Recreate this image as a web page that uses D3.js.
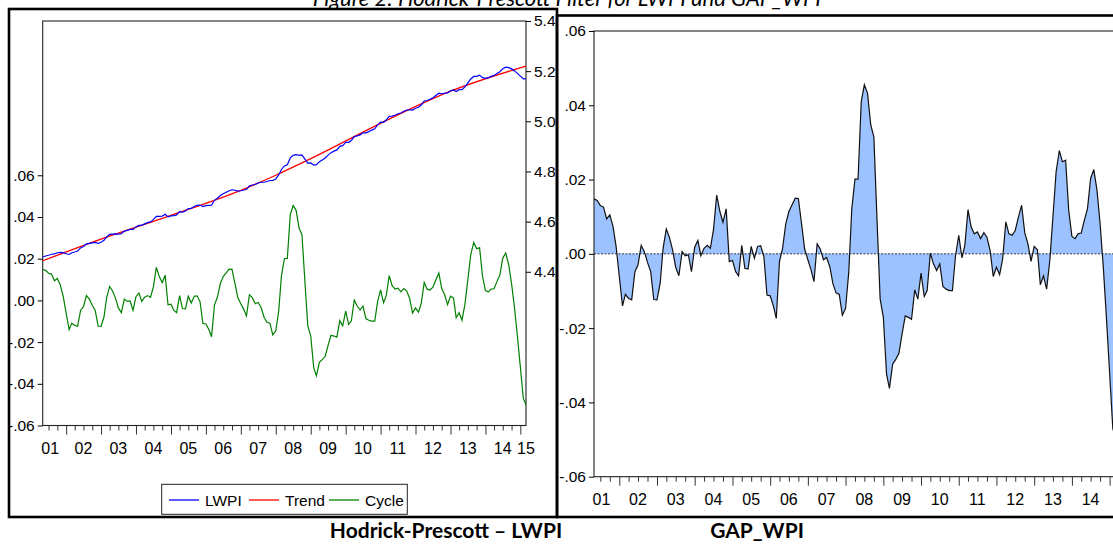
<!DOCTYPE html>
<html>
<head>
<meta charset="utf-8">
<script src="https://cdn.jsdelivr.net/npm/d3@7"></script>
<style>
  html, body { margin: 0; padding: 0; background: #fff; overflow: hidden; }
  svg { display: block; font-family: "Liberation Sans", Arial, sans-serif; }
</style>
</head>
<body>
<svg id="chart" width="1113" height="546"></svg>
<script>
// monthly observations 2001M05 .. 2015M03
const startMonth = "2001-05";
const endMonth = "2015-03";

// HP cycle (= GAP_WPI), one value per month
const cycle = [
  0.0148, 0.0144, 0.0130, 0.0126, 0.0094, 0.0105, 0.0074, 0.0020,
  -0.0061, -0.0140, -0.0109, -0.0120, -0.0124, -0.0048, -0.0030, 0.0023, 0.0006, -0.0023, -0.0048, -0.0123,
  -0.0124, -0.0079, 0.0015, 0.0067, 0.0045, 0.0011, -0.0036, -0.0059, 0.0006, -0.0005, -0.0003, -0.0048,
  0.0018, 0.0036, -0.0005, 0.0015, 0.0023, 0.0015, 0.0065, 0.0158, 0.0114, 0.0085, 0.0121, -0.0021,
  -0.0018, -0.0048, -0.0059, 0.0023, -0.0039, -0.0041, 0.0020, -0.0012, 0.0020, 0.0022, -0.0007, -0.0111,
  -0.0113, -0.0140, -0.0174, -0.0021, 0.0015, 0.0081, 0.0114, 0.0132, 0.0150, 0.0149, 0.0081, 0.0013,
  -0.0016, -0.0043, -0.0075, 0.0027, 0.0013, -0.0016, -0.0010, -0.0034, -0.0081, -0.0105, -0.0109, -0.0165,
  -0.0147, -0.0050, 0.0120, 0.0201, 0.0201, 0.0410, 0.0455, 0.0432, 0.0347, 0.0315, 0.0090, -0.0122,
  -0.0171, -0.0324, -0.0362, -0.0297, -0.0284, -0.0268, -0.0216, -0.0167, -0.0171, -0.0176, -0.0097, -0.0122,
  -0.0052, -0.0115, -0.0099, 0.0002, -0.0027, -0.0045, -0.0027, -0.0088, -0.0095, -0.0099, -0.0099, -0.0005,
  0.0050, -0.0011, 0.0023, 0.0119, 0.0072, 0.0054, 0.0059, 0.0041, 0.0057, 0.0045, 0.0009, -0.0061,
  -0.0036, -0.0056, -0.0014, 0.0086, 0.0054, 0.0050, 0.0063, 0.0099, 0.0131, 0.0057, 0.0027, -0.0020,
  0.0020, 0.0011, -0.0083, -0.0059, -0.0095, -0.0018, 0.0099, 0.0221, 0.0278, 0.0248, 0.0252, 0.0117,
  0.0047, 0.0041, 0.0054, 0.0056, 0.0090, 0.0122, 0.0203, 0.0227, 0.0171, 0.0081, -0.0036, -0.0171,
  -0.0320, -0.0470, -0.0500
];

// log WPI, one value per month
const lwpi = [
  4.459, 4.463, 4.466, 4.470, 4.471, 4.476, 4.477, 4.476,
  4.472, 4.469, 4.476, 4.479, 4.483, 4.495, 4.501, 4.511, 4.513, 4.515, 4.517, 4.513,
  4.518, 4.526, 4.539, 4.549, 4.550, 4.551, 4.550, 4.552, 4.562, 4.565, 4.569, 4.569,
  4.579, 4.585, 4.585, 4.591, 4.596, 4.599, 4.608, 4.621, 4.621, 4.622, 4.629, 4.619,
  4.623, 4.624, 4.627, 4.640, 4.638, 4.642, 4.652, 4.653, 4.660, 4.665, 4.666, 4.660,
  4.664, 4.665, 4.666, 4.685, 4.693, 4.704, 4.711, 4.717, 4.723, 4.727, 4.725, 4.722,
  4.723, 4.726, 4.728, 4.743, 4.746, 4.748, 4.754, 4.757, 4.757, 4.760, 4.764, 4.764,
  4.770, 4.786, 4.808, 4.822, 4.827, 4.854, 4.864, 4.867, 4.864, 4.866, 4.849, 4.833,
  4.834, 4.825, 4.827, 4.839, 4.846, 4.854, 4.865, 4.875, 4.881, 4.886, 4.900, 4.903,
  4.916, 4.916, 4.923, 4.939, 4.942, 4.946, 4.954, 4.954, 4.959, 4.965, 4.970, 4.986,
  4.997, 4.996, 5.005, 5.020, 5.021, 5.024, 5.030, 5.033, 5.040, 5.045, 5.046, 5.045,
  5.052, 5.056, 5.065, 5.081, 5.083, 5.088, 5.094, 5.103, 5.112, 5.110, 5.112, 5.113,
  5.122, 5.125, 5.119, 5.126, 5.126, 5.137, 5.153, 5.169, 5.179, 5.179, 5.184, 5.174,
  5.171, 5.174, 5.179, 5.183, 5.191, 5.198, 5.210, 5.216, 5.214, 5.209, 5.201, 5.191,
  5.180, 5.169, 5.170
];

// HP trend, read at a few months (smooth line)
const trendMonths = ["2001-05", "2003-01", "2005-01", "2007-01", "2008-01", "2009-01", "2011-01", "2013-01", "2015-03"];
const trendValues = [4.444, 4.530, 4.625, 4.725, 4.785, 4.851, 4.992, 5.120, 5.220];

const yearLabels = ["01", "02", "03", "04", "05", "06", "07", "08", "09", "10", "11", "12", "13", "14", "15"];
const cycleTicks = [0.06, 0.04, 0.02, 0, -0.02, -0.04, -0.06];
const cycleTickLabels = [".06", ".04", ".02", ".00", "-.02", "-.04", "-.06"];
const levelTicks = [4.4, 4.6, 4.8, 5.0, 5.2, 5.4];
const legendNames = ["LWPI", "Trend", "Cycle"];
const legendColors = ["#0000ff", "#ff0000", "#008000"];

const W = 1113;
const parseM = d3.timeParse("%Y-%m");
const months = d3.timeMonth.range(parseM(startMonth), d3.timeMonth.offset(parseM(endMonth), 1));
const first = months[0], last = months[months.length - 1];

const svg = d3.select("#chart");

// ---------- helpers ----------
function drawTimeAxis(g, x, y0, labelY) {
  const quarters = d3.timeMonth.every(3).range(first, d3.timeDay.offset(last, 1))
    .filter(d => d.getMonth() % 3 === 0 && d.getMonth() !== 0);
  const years = d3.timeYear.range(first, d3.timeDay.offset(last, 1));
  g.append("g").attr("transform", `translate(0,${y0})`)
    .call(d3.axisBottom(x).tickValues(quarters).tickSize(5).tickSizeOuter(0).tickFormat(""))
    .call(a => a.select(".domain").remove())
    .call(a => a.selectAll("line").attr("stroke", "#333"));
  g.append("g").attr("transform", `translate(0,${y0})`)
    .call(d3.axisBottom(x).tickValues(years).tickSize(9).tickSizeOuter(0).tickFormat(""))
    .call(a => a.select(".domain").remove())
    .call(a => a.selectAll("line").attr("stroke", "#333"));
  const [r0, r1] = x.range();
  const labels = yearLabels.map((d, i) => ({
    text: d,
    x: Math.min(Math.max(x(new Date(2001 + i, 6, 1)), r0 + 7.5), r1)
  })).filter(d => d.x + 8 < W);   // the last one sits past the window edge
  g.append("g").selectAll("text")
    .data(labels)
    .join("text")
    .attr("x", d => d.x)
    .attr("y", labelY)
    .attr("text-anchor", "middle")
    .attr("font-size", 16)
    .text(d => d.text);
}

// ---------- left panel: Hodrick-Prescott LWPI ----------
const L = { left: 42.7, right: 526, top: 21, bottom: 425.5 };
const xL = d3.scaleTime().domain([first, last]).range([L.left, L.right]);
const yCyc = d3.scaleLinear().domain([-0.06, 0.134]).range([L.bottom, L.top]);
const yLev = d3.scaleLinear().domain([3.787, 5.4]).range([L.bottom, L.top]);

const gl = svg.append("g");
gl.append("rect")
  .attr("x", L.left).attr("y", L.top)
  .attr("width", L.right - L.left).attr("height", L.bottom - L.top)
  .attr("fill", "none").attr("stroke", "#222").attr("stroke-width", 1.1);

gl.append("g").attr("transform", `translate(${L.left},0)`)
  .call(d3.axisLeft(yCyc).tickValues(cycleTicks).tickSize(5).tickPadding(3)
    .tickFormat((d, i) => cycleTickLabels[i]))
  .call(a => a.select(".domain").remove())
  .call(a => a.selectAll("text").attr("font-size", 15.5).attr("fill", "#000"));

gl.append("g").attr("transform", `translate(${L.right},0)`)
  .call(d3.axisRight(yLev).tickValues(levelTicks).tickSize(5).tickPadding(3).tickFormat(d3.format(".1f")))
  .call(a => a.select(".domain").remove())
  .call(a => a.selectAll("text").attr("font-size", 15.5).attr("fill", "#000"));

drawTimeAxis(gl, xL, L.bottom, 454);

gl.append("path")
  .datum(cycle)
  .attr("fill", "none").attr("stroke", legendColors[2]).attr("stroke-width", 1.2)
  .attr("d", d3.line().x((d, i) => xL(months[i])).y(d => yCyc(d)));

gl.append("path")
  .datum(trendValues)
  .attr("fill", "none").attr("stroke", legendColors[1]).attr("stroke-width", 1.3)
  .attr("d", d3.line().curve(d3.curveMonotoneX)
    .x((d, i) => xL(parseM(trendMonths[i]))).y(d => yLev(d)));

gl.append("path")
  .datum(lwpi)
  .attr("fill", "none").attr("stroke", legendColors[0]).attr("stroke-width", 1.2)
  .attr("d", d3.line().x((d, i) => xL(months[i])).y(d => yLev(d)));

// legend
const lg = gl.append("g");
lg.append("rect").attr("x", 161.7).attr("y", 484.3).attr("width", 245.6).attr("height", 30)
  .attr("fill", "#fff").attr("stroke", "#222").attr("stroke-width", 1);
const legendX = [169, 249, 329];
legendNames.forEach((name, i) => {
  lg.append("line").attr("x1", legendX[i]).attr("x2", legendX[i] + 30)
    .attr("y1", 500).attr("y2", 500).attr("stroke", legendColors[i]).attr("stroke-width", 1.3);
  lg.append("text").attr("x", legendX[i] + 36).attr("y", 506)
    .attr("font-size", 15.5).text(name);
});

// ---------- right panel: GAP_WPI ----------
const R = { left: 594, right: 1115.7, top: 31, bottom: 476.7 };
const xR = d3.scaleTime().domain([first, last]).range([R.left, R.right]);
const yGap = d3.scaleLinear().domain([-0.06, 0.06]).range([R.bottom, R.top]);

const gr = svg.append("g");
gr.append("path")
  .datum(cycle)
  .attr("fill", "#9cc2ff")
  .attr("d", d3.area().x((d, i) => xR(months[i])).y0(yGap(0)).y1(d => yGap(d)));

gr.append("line")
  .attr("x1", R.left).attr("x2", R.right).attr("y1", yGap(0)).attr("y2", yGap(0))
  .attr("stroke", "#334").attr("stroke-width", 1).attr("stroke-dasharray", "2,1.5");

gr.append("path")
  .datum(cycle)
  .attr("fill", "none").attr("stroke", "#111").attr("stroke-width", 1.2)
  .attr("d", d3.line().x((d, i) => xR(months[i])).y(d => yGap(d)));

gr.append("rect")
  .attr("x", R.left).attr("y", R.top)
  .attr("width", R.right - R.left).attr("height", R.bottom - R.top)
  .attr("fill", "none").attr("stroke", "#222").attr("stroke-width", 1.1);

gr.append("g").attr("transform", `translate(${R.left},0)`)
  .call(d3.axisLeft(yGap).tickValues(cycleTicks).tickSize(5).tickPadding(3)
    .tickFormat((d, i) => cycleTickLabels[i]))
  .call(a => a.select(".domain").remove())
  .call(a => a.selectAll("text").attr("font-size", 15.5).attr("fill", "#000"));

drawTimeAxis(gr, xR, R.bottom, 505);

// ---------- frames and captions ----------
svg.append("rect").attr("x", 9).attr("y", 9).attr("width", 548).attr("height", 508)
  .attr("fill", "none").attr("stroke", "#000").attr("stroke-width", 2.6);
svg.append("rect").attr("x", 557).attr("y", 15.5).attr("width", 620).attr("height", 501.5)
  .attr("fill", "none").attr("stroke", "#000").attr("stroke-width", 2.6);

svg.append("text")
  .attr("x", 567).attr("y", 6)
  .attr("text-anchor", "middle")
  .attr("font-family", "Lato, 'Liberation Sans', sans-serif")
  .attr("font-style", "italic").attr("font-size", 22)
  .text("Figure 2: Hodrick-Prescott Filter for LWPI and GAP_WPI");

svg.append("text")
  .attr("x", 446).attr("y", 538)
  .attr("text-anchor", "middle")
  .attr("font-family", "Lato, 'Liberation Sans', sans-serif")
  .attr("font-weight", "bold").attr("font-size", 21)
  .text("Hodrick-Prescott – LWPI");

svg.append("text")
  .attr("x", 757).attr("y", 538)
  .attr("text-anchor", "middle")
  .attr("font-family", "Lato, 'Liberation Sans', sans-serif")
  .attr("font-weight", "bold").attr("font-size", 21)
  .text("GAP_WPI");
</script>
</body>
</html>
